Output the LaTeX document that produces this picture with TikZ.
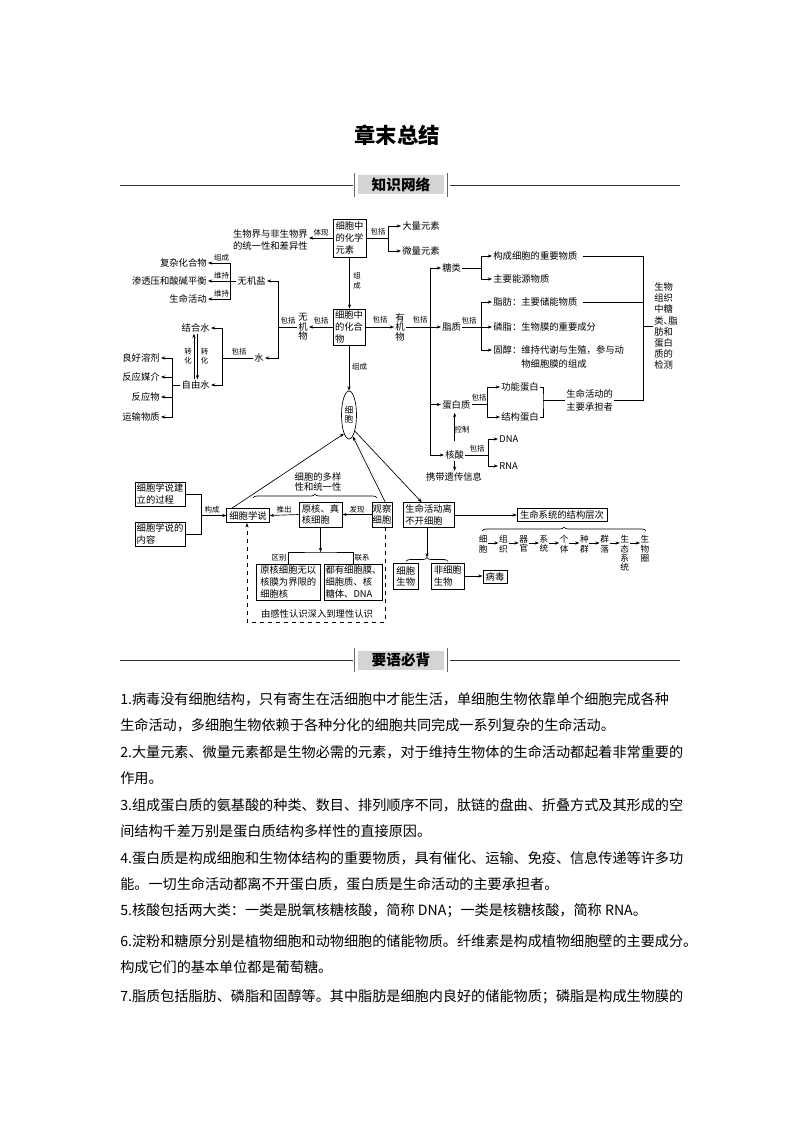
\documentclass[tikz,border=0pt]{standalone}
\usepackage{fontspec}
\setmainfont{Noto Sans CJK SC}
\usetikzlibrary{arrows.meta,shapes.geometric,decorations.pathreplacing,calc}
\newcommand\myfs[2]{\fontsize{#1}{#2}\selectfont}
\begin{document}
\begin{tikzpicture}[x=0.75pt,y=-0.75pt,
 tx/.style={inner sep=0.8pt, font=\myfs{7pt}{8.7pt}, align=left},
 vtx/.style={inner sep=0.8pt, font=\myfs{7pt}{7.1pt}, align=center},
 vch/.style={inner sep=0.3pt, font=\myfs{6.5pt}{6.8pt}, align=center, anchor=north},
 lbl/.style={inner sep=0pt, font=\myfs{5.6pt}{6.3pt}, align=center},
 bx/.style={draw, line width=0.55pt, inner sep=0.8pt, font=\myfs{7pt}{8.7pt}, align=left},
 cline/.style={line width=0.5pt},
 carr/.style={line width=0.5pt, -{Stealth[length=3.2pt,width=2.4pt]}},
 cbrace/.style={line width=0.5pt, decorate, decoration={brace, amplitude=3pt}},
 bodytx/.style={inner sep=0pt, anchor=west, font=\myfs{10.6pt}{12pt}},
 hdr/.style={fill=black!17, inner sep=0pt, minimum width=64.5pt, minimum height=14.25pt, font=\myfs{11pt}{12pt}\bfseries},
 hline/.style={line width=0.6pt, black!80},
 hbar/.style={line width=0.9pt, black!60}]
\useasboundingbox (0,0) rectangle (794,1123);

% ---------- title and header ----------
\node[font=\myfs{16pt}{18pt}\bfseries] (title) at (397,135) {章末总结};
\node[hdr] (h1) at (401,185) {知识网络};
\draw[hline] (120,185) -- (353,185);
\draw[hline] (450,185) -- (680,185);
\draw[hbar] ([xshift=-2.25pt,yshift=1.5pt]h1.north west) -- ([xshift=-2.25pt,yshift=-1.5pt]h1.south west);
\draw[hbar] ([xshift=2.25pt,yshift=1.5pt]h1.north east) -- ([xshift=2.25pt,yshift=-1.5pt]h1.south east);

% ---------- top part ----------
\node[bx, font=\myfs{7pt}{9.3pt}, minimum width=24.75pt, minimum height=28.5pt] (ys) at (349.5,238) {细胞中\\的化学\\元素};
\node[bx, font=\myfs{7pt}{9.3pt}, minimum width=24pt, minimum height=27pt] (hhw) at (349,327) {细胞中\\的化合\\物};

\node[tx, anchor=east, font=\myfs{7pt}{8.3pt}] (tyx) at (309,240) {生物界与非生物界\\的统一性和差异性};
\draw[carr] (ys.west) -- (ys.west -| tyx.east);
\node[lbl] at (321,233) {体现};

\node[tx, anchor=west] (dl) at (401,226) {大量元素};
\node[tx, anchor=west] (wl) at (401,251) {微量元素};
\coordinate (c1) at (388,238);
\draw[cline] (ys.east) -- (c1);
\draw[carr] (c1) |- (dl.west);
\draw[carr] (c1) |- (wl.west);
\node[lbl] at (378,232) {包括};

\draw[carr] (ys.south) -- (ys.south |- hhw.north);
\node[lbl, font=\myfs{5.6pt}{7.5pt}] at (357,281) {组\\成};

% organic
\node[vtx] (yjw) at (400,327) {有\\机\\物};
\draw[carr] (hhw.east) -- (yjw.west);
\node[lbl] at (380,320) {包括};
\coordinate (c2) at (430,327);
\draw[cline] (yjw.east) -- (c2);
\node[lbl] at (420,320) {包括};
\node[tx, anchor=west] (tl) at (441,268) {糖类};
\node[tx, anchor=west] (zz) at (441,327) {脂质};
\node[tx, anchor=west] (dbz) at (441,404.5) {蛋白质};
\node[tx, anchor=west] (hs) at (444,455) {核酸};
\draw[carr] (c2) |- (tl.west);
\draw[carr] (c2) -- (zz.west);
\draw[carr] (c2) |- (dbz.west);
\draw[carr] (c2) |- (hs.west);

% sugars
\coordinate (c3) at (481,268);
\draw[cline] (tl.east) -- (c3);
\node[tx, anchor=west] (gc) at (492,256) {构成细胞的重要物质};
\node[tx, anchor=west] (zy) at (492,279) {主要能源物质};
\draw[carr] (c3) |- (gc.west);
\draw[carr] (c3) |- (zy.west);

% lipids
\coordinate (c4) at (481,327);
\draw[cline] (zz.east) -- (c4);
\node[lbl] at (469,321) {包括};
\node[tx, anchor=west] (zf) at (492,302) {脂肪：主要储能物质};
\node[tx, anchor=west] (lz) at (492,327) {磷脂：生物膜的重要成分};
\node[tx, anchor=west] (gch) at (492,350) {固醇：维持代谢与生殖，参与动};
\node[tx, anchor=west] (gch2) at (520,364) {物细胞膜的组成};
\draw[carr] (c4) |- (zf.west);
\draw[carr] (c4) -- (lz.west);
\draw[carr] (c4) |- (gch.west);

% proteins
\coordinate (c5) at (487,404.5);
\draw[cline] (dbz.east) -- (c5);
\node[lbl] at (479,398) {包括};
\node[tx, anchor=west] (gn) at (500,387) {功能蛋白};
\node[tx, anchor=west] (jg) at (500,417) {结构蛋白};
\draw[carr] (c5) |- (gn.west);
\draw[carr] (c5) |- (jg.west);
\coordinate (c6) at (543,400);
\draw[cline] (gn.east) -| (c6) |- (jg.east);
\node[tx, anchor=west, font=\myfs{7pt}{9.8pt}] (cd) at (565,400) {生命活动的\\主要承担者};
\draw[cline] (c6) -- (c6 -| cd.west);

% right column
\node[tx, font=\myfs{7pt}{8.3pt}] (jc) at (666,326) {生物\\组织\\中糖\\类\makebox[0.5em][l]{、}脂\\肪和\\蛋白\\质的\\检测};
\coordinate (c8) at (643,400);
\draw[cline] ([xshift=3pt]gc.east) -| (c8) -- (cd.east);
\draw[cline] ([xshift=3pt]zf.east) -- (zf.east -| c8);
\draw[cline] (c8 |- jc.west) -- (jc.west);

% nucleic acids
\coordinate (c9) at (488,455);
\draw[cline] (hs.east) -- (c9);
\node[lbl] at (477,448.5) {包括};
\node[tx, anchor=west] (dna) at (498,439) {DNA};
\node[tx, anchor=west] (rna) at (498,466) {RNA};
\draw[carr] (c9) |- (dna.west);
\draw[carr] (c9) |- (rna.west);
\draw[carr, shorten >=2pt] ([yshift=6pt]hs.north) -- (hs.north |- dbz.south);
\node[lbl] at (462,430) {控制};
\node[tx] (xd) at (454,476.5) {携带遗传信息};
\draw[carr] (hs.south) -- (hs.south |- xd.north);

% inorganic
\node[vtx] (wjw) at (303,327) {无\\机\\物};
\draw[carr] (hhw.west) -- (wjw.east);
\node[lbl] at (321,321) {包括};
\coordinate (c10) at (278,327);
\draw[cline] (wjw.west) -- (c10);
\node[lbl] at (288,321) {包括};
\node[tx, anchor=east] (wjy) at (267,281) {无机盐};
\node[tx, anchor=east] (sh) at (265,358) {水};
\draw[carr] (c10) |- (wjy.east);
\draw[carr] (c10) |- (sh.east);

\coordinate (c11) at (230,281);
\draw[cline] (wjy.west) -- (c11);
\node[tx, anchor=east] (fz) at (208,263) {复杂化合物};
\node[tx, anchor=east] (st) at (208,281) {渗透压和酸碱平衡};
\node[tx, anchor=east] (sm) at (208,299) {生命活动};
\draw[carr] (c11) |- (fz.east);
\draw[carr] (c11) -- (st.east);
\draw[carr] (c11) |- (sm.east);
\node[lbl] at (221.5,257.5) {组成};
\node[lbl] at (221.5,275.5) {维持};
\node[lbl] at (221.5,293.5) {维持};

\coordinate (c12) at (222,358);
\draw[cline] (sh.west) -- (c12);
\node[lbl] at (239,352) {包括};
\node[tx, anchor=east] (jhs) at (211,328) {结合水};
\node[tx, anchor=east] (zys) at (211,385) {自由水};
\draw[carr] (c12) |- (jhs.east);
\draw[carr] (c12) |- (zys.east);
\draw[carr] ([xshift=-1.3pt]zys.north) -- ([xshift=-1.3pt]jhs.south);
\draw[carr] ([xshift=1.3pt]jhs.south) -- ([xshift=1.3pt]zys.north);
\node[lbl, font=\myfs{5.6pt}{6.6pt}] at (188,356) {转\\化};
\node[lbl, font=\myfs{5.6pt}{6.6pt}] at (204.5,356) {转\\化};

\coordinate (c13) at (172,385);
\draw[cline] (zys.west) -- (c13);
\node[tx, anchor=east] (lh) at (161,358) {良好溶剂};
\node[tx, anchor=east] (fm) at (161,377) {反应媒介};
\node[tx, anchor=east] (fy) at (161,397) {反应物};
\node[tx, anchor=east] (ysw) at (161,417) {运输物质};
\draw[carr] (c13) |- (lh.east);
\draw[carr] (c13) |- (fm.east);
\draw[carr] (c13) |- (fy.east);
\draw[carr] (c13) |- (ysw.east);

% ---------- cell ----------
\node[ellipse, draw, line width=0.5pt, inner sep=0pt, minimum width=11.25pt, minimum height=36pt, font=\myfs{6.5pt}{6.8pt}, align=center] (cell) at (349,415) {细\\胞};
\draw[carr] (hhw.south) -- (cell.north);
\node[lbl] at (359.5,367) {组成};

% ---------- bottom left ----------
\node[bx, minimum width=32pt, minimum height=10.8pt] (xs) at (248,515.5) {细胞学说};
\node[bx, minimum width=37.5pt, minimum height=18.2pt] (jl) at (160,494) {细胞学说建\\立的过程};
\node[bx, minimum width=37.5pt, minimum height=18.2pt] (nr) at (160,534) {细胞学说的\\内容};
\node[bx, minimum width=32.25pt, minimum height=18.75pt] (yh) at (320.5,514.5) {原核、真\\核细胞};
\node[bx, minimum width=15pt, minimum height=18.75pt, inner sep=0.3pt] (gx) at (382,514.5) {观察\\细胞};
\node[bx, minimum width=47.5pt, minimum height=26.8pt] (qb) at (288.3,582) {原核细胞无以\\核膜为界限的\\细胞核};
\node[bx, minimum width=43pt, minimum height=26.8pt, inner sep=0.3pt] (lx) at (353.5,582) {都有细胞膜、\\细胞质、核\\糖体、DNA};

\draw[carr] ([xshift=4.5pt]xs.north west) -- (cell.-105);
\draw[carr] ([xshift=2.25pt]gx.north) -- (cell.-80);
\draw[carr] (yh.west) -- (xs.east);
\node[lbl] at (284,510) {推出};
\draw[carr] (gx.west) -- (yh.east);
\node[lbl] at (357,510) {发现};
\node[tx, align=center, font=\myfs{7pt}{8pt}] (dy) at (318,482) {细胞的多样\\性和统一性};
\coordinate (b1a) at (253,498);
\coordinate (b1b) at (377,498);
\draw[cbrace] (b1a) -- (b1b);

\coordinate (d2) at (247,622);
\draw[carr, dashed] ([xshift=2.25pt]gx.south) |- (d2) -- (d2 |- xs.south);
\node[tx] (gxr) at (317,614) {由感性认识深入到理性认识};

\coordinate (c14) at (320.5,552);
\draw[carr] (yh.south) -- (c14);
\draw[cline] (qb.north) |- (c14) -| (lx.north);
\node[lbl] at (279,557.5) {区别};
\node[lbl] at (362,557.5) {联系};

\coordinate (c15) at (201,515.5);
\draw[cline] (jl.east) -| (c15);
\draw[cline] (nr.east) -| (c15);
\draw[carr] (c15) -- (xs.west);
\node[lbl] at (212,509.5) {构成};

% ---------- bottom right ----------
\node[bx, minimum width=38pt, minimum height=18.5pt] (sl) at (428.7,515) {生命活动离\\不开细胞};
\node[bx, minimum width=67.3pt, minimum height=9.5pt] (sx) at (562,514.7) {生命系统的结构层次};
\node[bx, minimum width=18.75pt, minimum height=19.5pt] (xw) at (405.8,576.3) {细胞\\生物};
\node[bx, minimum width=24.2pt, minimum height=19.5pt] (fw) at (447.8,576) {非细胞\\生物};
\node[bx, minimum width=18.2pt, minimum height=10pt] (bd) at (495,576.7) {病毒};

\draw[carr] (cell.-70) -- ([xshift=-5.25pt]sl.north);
\draw[carr] (sl.east) -- (sl.east -| sx.west);
\coordinate (b2a) at (482,531);
\coordinate (b2b) at (646,531);
\draw[cbrace] (b2a) -- (b2b);

\node[vch] (l1) at (483.3,535) {细\\胞};
\node[vch] (l2) at (503.5,535) {组\\织};
\node[vch] (l3) at (523.7,535) {器\\官};
\node[vch] (l4) at (544,535) {系\\统};
\node[vch] (l5) at (564.2,535) {个\\体};
\node[vch] (l6) at (584.4,535) {种\\群};
\node[vch] (l7) at (604.6,535) {群\\落};
\node[vch] (l8) at (624.8,535) {生\\态\\系\\统};
\node[vch] (l9) at (645,535) {生\\物\\圈};
\foreach \a/\b in {l1/l2,l2/l3,l3/l4,l4/l5,l5/l6,l6/l7,l7/l8,l8/l9}
  \draw[carr] ([yshift=-6pt]\a.north east) -- ([yshift=-6pt]\b.north west);

\coordinate (b3a) at (406,561.5);
\coordinate (b3b) at (448,561.5);
\draw[cbrace] (b3a) -- (b3b);
\coordinate (b3t) at (427,557.5);
\draw[carr] (sl.south -| b3t) -- (b3t);
\draw[carr] (fw.east) -- (fw.east -| bd.west);

% ---------- second header ----------
\node[hdr] (h2) at (401,660) {要语必背};
\draw[hline] (120,660) -- (353,660);
\draw[hline] (450,660) -- (680,660);
\draw[hbar] ([xshift=-2.25pt,yshift=1.5pt]h2.north west) -- ([xshift=-2.25pt,yshift=-1.5pt]h2.south west);
\draw[hbar] ([xshift=2.25pt,yshift=1.5pt]h2.north east) -- ([xshift=2.25pt,yshift=-1.5pt]h2.south east);

% ---------- body text ----------
\node[bodytx] (p1) at (120,699) {1.病毒没有细胞结构，只有寄生在活细胞中才能生活，单细胞生物依靠单个细胞完成各种};
\node[bodytx] (p1b) at (120,725.5) {生命活动，多细胞生物依赖于各种分化的细胞共同完成一系列复杂的生命活动。};
\node[bodytx] (p2) at (120,752) {2.大量元素、微量元素都是生物必需的元素，对于维持生物体的生命活动都起着非常重要的};
\node[bodytx] (p2b) at (120,778.5) {作用。};
\node[bodytx] (p3) at (120,805) {3.组成蛋白质的氨基酸的种类、数目、排列顺序不同，肽链的盘曲、折叠方式及其形成的空};
\node[bodytx] (p3b) at (120,831.5) {间结构千差万别是蛋白质结构多样性的直接原因。};
\node[bodytx] (p4) at (120,858) {4.蛋白质是构成细胞和生物体结构的重要物质，具有催化、运输、免疫、信息传递等许多功};
\node[bodytx] (p4b) at (120,884.5) {能。一切生命活动都离不开蛋白质，蛋白质是生命活动的主要承担者。};
\node[bodytx] (p5) at (120,911) {5.核酸包括两大类：一类是脱氧核糖核酸，简称 DNA；一类是核糖核酸，简称 RNA。};
\node[bodytx] (p6) at (120,941) {6.淀粉和糖原分别是植物细胞和动物细胞的储能物质。纤维素是构成植物细胞壁的主要成分。};
\node[bodytx] (p6b) at (120,967.5) {构成它们的基本单位都是葡萄糖。};
\node[bodytx] (p7) at (120,997) {7.脂质包括脂肪、磷脂和固醇等。其中脂肪是细胞内良好的储能物质；磷脂是构成生物膜的};
\end{tikzpicture}
\end{document}
